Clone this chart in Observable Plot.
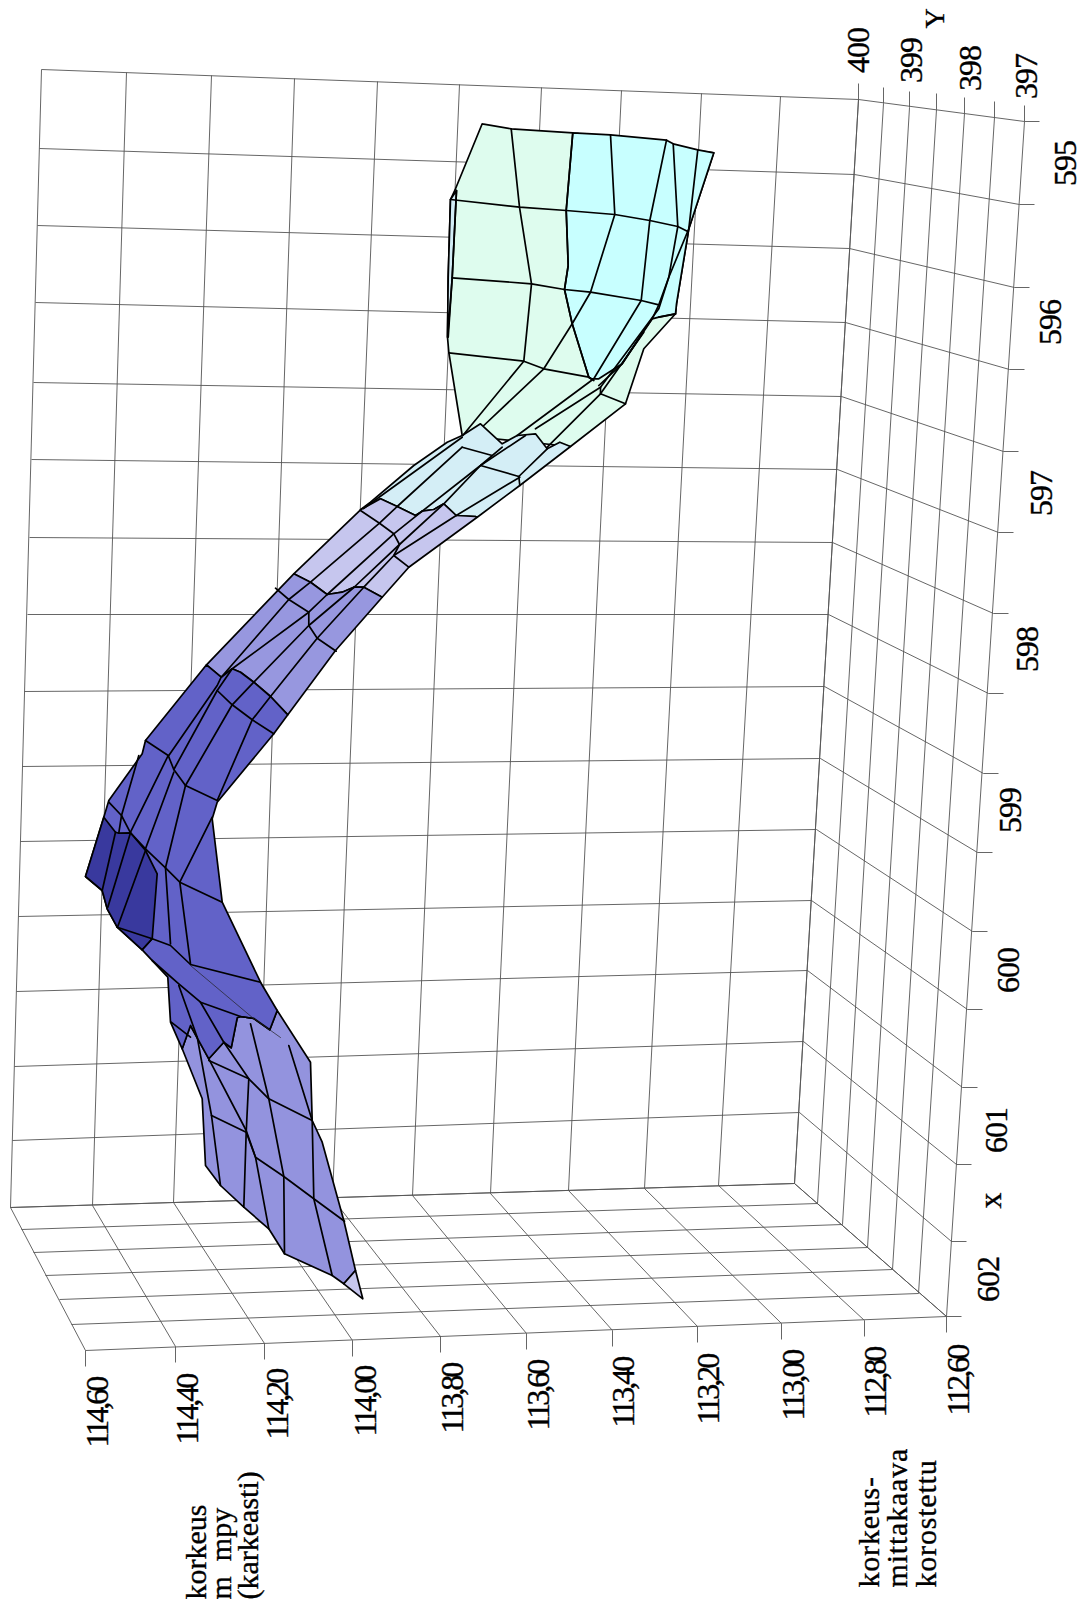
<!DOCTYPE html>
<html><head><meta charset="utf-8">
<script src="https://cdn.jsdelivr.net/npm/d3@7"></script>
<script src="https://cdn.jsdelivr.net/npm/@observablehq/plot@0.6"></script>
<style>
html,body{margin:0;padding:0;background:#fff}
svg{display:block}
.heightTick text{letter-spacing:-3px}
.axisTick text{letter-spacing:-1px}
.noteText text{letter-spacing:.8px}
</style></head><body><div id="chart"></div>
<script>
// ---- axis labels
const heightLabels = ["114,60","114,40","114,20","114,00","113,80","113,60","113,40","113,20","113,00","112,80","112,60"];
const heightLabelX = [97,187,277,365,452,538,623,708,793,875,958];
const heightLabelY = [1447,1444,1439,1436,1433,1430,1427,1424,1420,1417,1415];
const categoryLabels = ["595","596","597","598","599","600","601","602"];
const categoryLabelX = [1065,1050,1041,1027,1010,1008,996,988];
const categoryLabelY = [163,322,493,649,810,970,1130,1279];
const seriesLabels = ["400","399","398","397"];
const seriesLabelX = [858,911,970,1026];
const seriesLabelY = [50,60,68,76];

// ---- the perspective box (picture units)
const leftEdgeX = [41,39,37,35,33,31,29,27,24,22,20,18,16,14,12,10];
const leftEdgeY = [69,148,225,302,382,459,537,614,691,766,841,916,991,1066,1140,1207];
const midEdgeX = [858,854,849,845,841,837,832,828,824,820,816,811,807,803,799,794];
const midEdgeY = [99,174,248,322,396,469,542,614,686,758,829,900,970,1041,1112,1183];
const rightEdgeX = [1024,1019,1014,1009,1003,998,993,988,983,977,972,967,962,956,951,946];
const rightEdgeY = [121,204,287,369,451,532,613,693,773,852,931,1009,1087,1164,1241,1316];
const wallTopX = [41,126,211,294,377,459,541,621,701,780,858];
const wallTopY = [69,72,75,78,81,84,87,90,93,96,99];
const wallBottomX = [10,92,173,256,332,412,490,568,644,718,794];
const wallBottomY = [1207,1205,1202,1200,1198,1195,1193,1190,1188,1185,1183];
const frontBottomX = [85,175,264,352,440,526,612,697,781,864,946];
const frontBottomY = [1350,1346,1343,1340,1336,1333,1330,1326,1323,1320,1316];
const floorTopX = [858,883,909,936,964,994,1024];
const floorTopY = [99,103,107,109,113,117,121];
const floorFrontX = [794,817,842,867,892,918,946];
const floorFrontY = [1183,1203,1224,1247,1269,1293,1316];
const frontLeftX = [10,21,33,45,59,71,85];
const frontLeftY = [1207,1229,1252,1275,1299,1324,1350];

const grid = [];
const seg = (x1,y1,x2,y2)=>grid.push({x1,y1,x2,y2});
leftEdgeX.forEach((_,i)=>{
  seg(leftEdgeX[i],leftEdgeY[i],midEdgeX[i],midEdgeY[i]);
  seg(midEdgeX[i],midEdgeY[i],rightEdgeX[i],rightEdgeY[i]);
  seg(rightEdgeX[i],rightEdgeY[i],rightEdgeX[i]+15,rightEdgeY[i]);
});
wallTopX.forEach((_,i)=>{
  seg(wallTopX[i],wallTopY[i],wallBottomX[i],wallBottomY[i]);
  seg(wallBottomX[i],wallBottomY[i],frontBottomX[i],frontBottomY[i]);
  seg(frontBottomX[i],frontBottomY[i],frontBottomX[i],frontBottomY[i]+16);
});
floorTopX.forEach((_,i)=>{
  seg(floorTopX[i],floorTopY[i]-16,floorTopX[i],floorTopY[i]);
  seg(floorTopX[i],floorTopY[i],floorFrontX[i],floorFrontY[i]);
  seg(frontLeftX[i],frontLeftY[i],floorFrontX[i],floorFrontY[i]);
});

// ---- height bands of the surface (colour bands, picture units)
const mintBand = [[481.7,123.3],[510.7,128.3],[572.3,132.3],[713.3,152.3],[688.3,228.3],[676,303.3],[675,313.3],[643.3,348.3],[625,403.3],[570,446],[461.7,435],[448.3,351.7],[447,336.7],[447.7,276.7],[450,199],[455,188.3]];
const sliverBand = [[450,199],[456,190],[451.7,277.3],[449,313],[447,336.7],[447.7,276.7]];
const cyanBand = [[572.3,132.3],[610,134.3],[666,139.7],[672.7,143.3],[697.3,149.3],[713.3,152.3],[688.3,228.3],[676,303.3],[675,313.3],[658.3,316.7],[651.7,318.3],[643.3,330],[621.7,363.3],[598.3,378.3],[590.7,378.3],[588.3,376.7],[571.7,323.3],[564,289],[567.7,265],[565.7,210]];
const paleBlueBand = [[461.7,435],[480,423.3],[501.7,443.3],[516.7,435],[535,433.3],[546.7,448.3],[559.3,441.7],[570,446],[519.3,485],[476.7,516.7],[475,516],[455.7,515],[443.3,503.3],[433.3,509],[421.7,510.7],[415,515],[396.7,506],[380,498.3],[360,509.3],[370,501.7],[413.3,465],[446.7,441.7]];
const lavenderBand = [[360,509.3],[380,498.3],[396.7,506],[415,515],[421.7,510.7],[433.3,509],[443.3,503.3],[455.7,515],[475,516],[476.7,516.7],[408.3,566.7],[381.7,596.7],[363.3,586.7],[353.3,586.7],[341.7,591.7],[326.7,594],[310,581.7],[293.3,573.3]];
const tipBand = [[343.3,1283.3],[362.3,1298.3],[355,1270]];
const periwinkleUpper = [[293.3,573.3],[310,581.7],[326.7,594],[341.7,591.7],[353.3,586.7],[363.3,586.7],[381.7,596.7],[335,650],[287.3,714.3],[270,696],[253.3,681.7],[240,671.7],[231.7,668.3],[220.7,676.7],[206,664.3]];
const mediumBand = [[206,664.3],[220.7,676.7],[231.7,668.3],[240,671.7],[253.3,681.7],[270,696],[287.3,714.3],[273.3,733.3],[216.7,801.7],[211.7,818.3],[221.7,901.7],[260,981.7],[276.7,1010],[269.3,1029.3],[253.3,1018],[240,1016],[236.7,1017.3],[230.7,1047.3],[223.3,1041.7],[208.3,1058.3],[196.7,1037.3],[190,1025],[181.7,1048.3],[170,1021.7],[167.3,976.7],[141.7,949.3],[116.7,926.7],[106.7,908.3],[101.7,890],[85,876],[103.3,816.7],[108.3,800],[141.7,753.3],[145,740]];
const darkBand = [[103.3,816.7],[115,831.7],[118.3,832.7],[130,832.3],[145,850],[156.7,873.3],[151.7,938.3],[141.7,949.3],[116.7,926.7],[106.7,908.3],[101.7,890],[85,876]];
const periwinkleLower = [[276.7,1010],[269.3,1029.3],[253.3,1018],[240,1016],[236.7,1017.3],[230.7,1047.3],[223.3,1041.7],[208.3,1058.3],[196.7,1037.3],[190,1025],[181.7,1048.3],[201.7,1098.3],[205,1165],[220,1185],[243.3,1206.7],[268.3,1228.3],[284,1253.3],[331.7,1275],[343.3,1283.3],[355,1270],[343.3,1220],[321.7,1141.7],[311.7,1120],[310,1061.7]];

const bands = [
  [mintBand,"#defcee"],[sliverBand,"#d3edf6"],[cyanBand,"#c8ffff"],[paleBlueBand,"#d4eef6"],
  [lavenderBand,"#c6c6ee"],[periwinkleUpper,"#9797df"],[periwinkleLower,"#9393de"],
  [mediumBand,"#6262c8"],[darkBand,"#39399e"],[tipBand,"#c6c6ee"]
];

// ---- mesh lines drawn on the bands (picture units)
const meshLines = [
 // mint and cyan
 [[450,199],[519,206.7],[565.7,210],[614.3,214],[649.3,220],[677.3,226],[687.3,231]],
 [[451.7,277.3],[531,283.3],[564,289],[590,291.7],[640.7,300],[658.3,304.3]],
 [[448.3,352.3],[523.3,360.7],[543.3,368.3],[588.3,376.7],[593.3,380]],
 [[510.7,128.3],[519,206.7],[531,283.3],[523.3,360.7],[462.3,435]],
 [[572.3,132.3],[565.7,210],[567.7,265],[564,289],[571.7,323.3],[588.3,376.7],[590.7,378.3]],
 [[610,134.3],[614.3,214],[590,291.7],[571.7,323.3],[543.3,368.3],[483.3,425]],
 [[666,139.7],[649.3,220],[640.7,300],[593.3,378.3],[516.7,435]],
 [[672.7,143.3],[677.3,226],[668.3,276.7],[658.3,304.3],[651.7,318.3],[621.7,363.3],[598.3,385]],
 [[697.3,149.3],[688.3,228.3],[668.3,276.7],[658.3,308.3],[600,386.7],[535,428.3]],
 [[658.3,316.7],[675,313.3]],
 [[643.3,331.7],[600,393.3],[546.7,446.7]],
 [[600,393.3],[625,403.3]],[[600,386.7],[600,393.3]],
 [[456,190],[451.7,277.3],[447.7,336.7]],
 // pale blue
 [[461.7,446.7],[491.7,455]],[[480,465],[518.3,476]],[[518.3,476],[519.3,485]],[[518.3,476],[546.7,448.3]],
 [[461.7,436.7],[363,508]],[[461.7,446.7],[396.7,506]],[[501.7,446.7],[480,465],[421.7,510.7]],[[525,435],[480,465],[443.3,503.3]],[[519.3,476.7],[455.7,515]],
 // lavender
 [[360,510],[379,522.7],[393.3,533.3],[399,544],[393.3,555],[408.3,566.7]],
 [[396.7,506],[379,522.7],[310,581.7]],[[421.7,510.7],[393.3,533.3],[326.7,594]],[[443.3,503.3],[399,544],[353.3,587]],[[455.7,515],[393.3,555],[363.3,586.7]],
 // periwinkle upper
 [[275,587.7],[288.3,599],[308.3,611.7],[308.3,625],[316.7,637.7],[335.7,650.7]],
 [[310,581.7],[288.3,599],[220.7,676.7]],[[326.7,594],[308.3,611.7],[231.7,668.3]],[[353.3,587],[308.3,625],[253.3,681.7]],[[363.3,586.7],[316.7,637.7],[270,696]],
 // medium
 [[145,740],[167.7,755],[173.3,769],[185,785],[216.7,800]],
 [[108.3,801.7],[121,815],[130,832.3],[145,848.3],[165,867.3],[179.3,881.7],[221.7,901.7]],
 [[216.7,690],[231.7,704.3],[251.7,719.3],[273.3,733.3]],
 [[220.7,676.7],[216.7,685],[168.3,755]],[[231.7,668.3],[216.7,690],[173.3,769]],[[253.3,681.7],[231.7,704.3],[185,785]],[[270,696],[251.7,719.3],[216.7,800]],
 [[211.7,816.7],[179.3,881.7]],
 [[138.3,755],[121,815],[118.3,832.7]],[[167.7,755],[130,831.7]],[[173.3,771.7],[145,848.3]],[[185,785],[165,867.3]],
 // dark
 [[115,831.7],[101.7,890]],[[130,832.3],[107.3,906.7]],[[145,850],[117,926.7]],
 // medium below the dark band
 [[165,867.3],[170,943.3]],[[179.3,881.7],[190,963.3]],
 [[116.7,926.7],[151.7,938.3],[170,945],[190,964],[260,981.7]],
 [[151.7,938.3],[141.7,949.3]],
 [[151.7,960],[178.3,983.3],[200,1001.7],[240,1016],[253.3,1018]],
 [[178.3,985],[196.7,1036.7]],[[200,1001.7],[223.3,1041.7]],
 [[170.7,1021.7],[190,1036.7]],
 // periwinkle lower
 [[208.3,1060],[248.3,1078.3],[268.3,1098.3],[311.7,1120]],
 [[211,1115],[245.7,1131.7],[255,1156.7],[283.3,1176],[313.3,1198.3],[344,1220.7]],
 [[196.7,1036.7],[211,1115],[220,1185]],
 [[223.3,1041.7],[248.3,1078.3],[245.7,1131.7],[243.3,1206.7]],
 [[208.3,1058.3],[245.7,1130],[255,1156.7],[268.3,1228.3]],
 [[250,1023.3],[268.3,1098.3],[283.3,1176],[284,1253.3]],
 [[288.3,1045],[311.7,1120],[313.3,1198.3],[331.7,1275]]
];
const thinLines = [[[190,965],[253,1018]],[[253.3,1018],[280,1037]]];

const rows = pts => pts.concat([pts[0]]);
const px = d=>d[0], py = d=>d[1];
const serif = "Liberation Serif";
const ink = {fontFamily:serif,fill:"#000",stroke:"#000",strokeWidth:.35,rotate:-90};

const marks = [
  Plot.link(grid,{x1:"x1",y1:"y1",x2:"x2",y2:"y2",stroke:"#555",strokeWidth:.9}),
  ...bands.map(([pts,c])=>Plot.line(rows(pts),{x:px,y:py,curve:"linear",fill:c,stroke:"#000",strokeWidth:1.7,strokeLinejoin:"round"})),
  ...meshLines.map(l=>Plot.line(l,{x:px,y:py,curve:"linear",stroke:"#000",strokeWidth:1.7})),
  ...thinLines.map(l=>Plot.line(l,{x:px,y:py,curve:"linear",stroke:"#222",strokeWidth:.7})),
  Plot.text(heightLabels,{...ink,x:(d,i)=>heightLabelX[i],y:(d,i)=>heightLabelY[i],text:d=>d,textAnchor:"start",fontSize:32,className:"heightTick"}),
  Plot.text(categoryLabels,{...ink,x:(d,i)=>categoryLabelX[i],y:(d,i)=>categoryLabelY[i],text:d=>d,fontSize:32,className:"axisTick"}),
  Plot.text(seriesLabels,{...ink,x:(d,i)=>seriesLabelX[i],y:(d,i)=>seriesLabelY[i],text:d=>d,fontSize:32,className:"axisTick"}),
  Plot.text(["Y"],{...ink,x:[935],y:[18],text:d=>d,fontSize:28}),
  Plot.text(["x"],{...ink,x:[990],y:[1200],text:d=>d,fontSize:32}),
  Plot.text(["korkeus","m  mpy","(karkeasti)"],{...ink,x:[196,221,248],y:[1599,1599,1599],text:d=>d,textAnchor:"start",fontSize:30}),
  Plot.text(["korkeus-","mittakaava","korostettu"],{...ink,x:[869,897,926],y:[1587,1587,1587],text:d=>d,textAnchor:"start",fontSize:30,className:"noteText"})
];

const chart = Plot.plot({
  width:1086,height:1609,margin:0,
  x:{domain:[0,1086],range:[0,1086],axis:null},
  y:{domain:[0,1609],range:[0,1609],axis:null},
  style:{background:"#fff"},
  marks
});
document.getElementById("chart").append(chart);
</script></body></html>
